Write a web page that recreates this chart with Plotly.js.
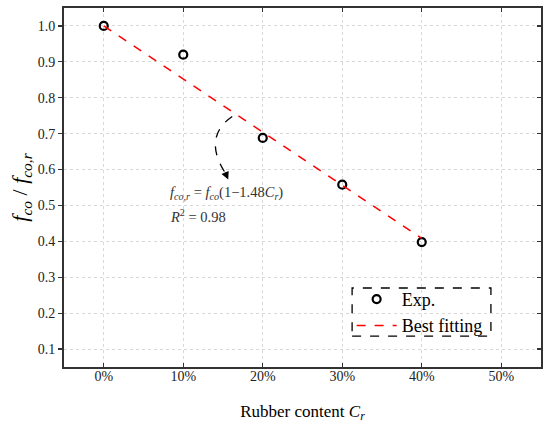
<!DOCTYPE html>
<html><head><meta charset="utf-8">
<script src="https://cdn.plot.ly/plotly-3.0.1.min.js"></script>
<style>html,body{margin:0;padding:0;background:#fff}</style>
</head><body>
<div id="chart" style="width:550px;height:426px"></div>
<script>
var rubberContent = [0, 0.1, 0.2, 0.3, 0.4];
var strengthRatio = [1.0, 0.92, 0.688, 0.558, 0.398];
var fitX = [0, 0.4];
var fitY = [1.0, 0.408];
var xTickVals = [0, 0.1, 0.2, 0.3, 0.4, 0.5];
var xTickText = ['0%', '10%', '20%', '30%', '40%', '50%'];
var yTickVals = [0.1, 0.2, 0.3, 0.4, 0.5, 0.6, 0.7, 0.8, 0.9, 1.0];

var serif = '"Liberation Serif", serif';
var traces = [
  {x: rubberContent, y: strengthRatio, mode: 'markers', name: 'Exp.',
   marker: {symbol: 'circle-open', size: 8, color: '#000', line: {width: 2.2, color: '#000'}}},
  {x: fitX, y: fitY, mode: 'lines', name: 'Best fitting',
   line: {color: '#ff0000', width: 1.5, dash: 'dash'}},
  {x: [0], y: [0], yaxis: 'y2', mode: 'markers', showlegend: false, hoverinfo: 'skip',
   marker: {opacity: 0}}
];
var layout = {
  width: 550, height: 426,
  margin: {l: 64, r: 9, t: 8, b: 59},
  paper_bgcolor: '#fff', plot_bgcolor: '#fff',
  font: {family: serif, color: '#000'},
  showlegend: true,
  legend: {x: 0.603, y: 0.24, xanchor: 'left', yanchor: 'top', bgcolor: 'rgba(0,0,0,0)',
           itemwidth: 40, font: {family: serif, size: 18, color: '#000'}, tracegroupgap: 0},
  xaxis: {range: [-0.05, 0.55], tickvals: xTickVals, ticktext: xTickText,
          ticks: 'inside', ticklen: 4, tickwidth: 1.2, tickcolor: '#333',
          showline: true, linecolor: '#333', linewidth: 2, mirror: 'ticks',
          ticklabelstandoff: -5,
          showgrid: true, gridcolor: '#d8d8d8', griddash: 'dot', gridwidth: 1,
          zeroline: false, tickfont: {family: serif, size: 14, color: '#222'},
          title: {text: 'Rubber content <i>C<sub>r</sub></i>', font: {family: serif, size: 17, color: '#000'}, standoff: 22}},
  yaxis: {range: [0.05, 1.05], tickvals: yTickVals, tickformat: '.1f',
          ticks: 'outside', ticklen: 4, tickwidth: 1.2, tickcolor: '#333',
          showline: true, linecolor: '#333', linewidth: 2, mirror: true,
          showgrid: true, gridcolor: '#d8d8d8', griddash: 'dot', gridwidth: 1,
          zeroline: false, tickfont: {family: serif, size: 14, color: '#222'},
          title: {text: '<i>f<sub>co</sub></i> / <i>f<sub>co,r</sub></i>', font: {family: serif, size: 22, color: '#000'}, standoff: 4}},
  yaxis2: {range: [0.05, 1.05], tickvals: yTickVals, overlaying: 'y', side: 'right',
           ticks: 'inside', ticklen: 4, tickwidth: 1.2, tickcolor: '#333',
           showticklabels: false, showgrid: false, zeroline: false, showline: false},
  shapes: [
    {type: 'path', xref: 'x', yref: 'y', path: 'M 0.1616 0.748 Q 0.124 0.69 0.153 0.59',
     line: {color: '#000', width: 1.3, dash: 'dash'}},
    {type: 'rect', xref: 'paper', yref: 'paper', x0: 0.604, x1: 0.895, y0: 0.086, y1: 0.22,
     line: {color: '#000', width: 1.3, dash: 'dash'}}
  ],
  annotations: [
    {x: 0.1566, y: 0.572, ax: 0.152, ay: 0.595, xref: 'x', yref: 'y', axref: 'x', ayref: 'y',
     text: '', showarrow: true, arrowhead: 2, arrowsize: 1.2, arrowwidth: 1.3, arrowcolor: '#000', standoff: 0},
    {x: 0.0808, y: 0.535, xref: 'x', yref: 'y', xanchor: 'left', yanchor: 'middle', showarrow: false,
     text: '<i>f<sub>co,r</sub></i> = <i>f<sub>co</sub></i>(1\u22121.48<i>C<sub>r</sub></i>)',
     font: {family: serif, size: 14.5, color: '#333'}},
    {x: 0.0808, y: 0.471, xref: 'x', yref: 'y', xanchor: 'left', yanchor: 'middle', showarrow: false,
     text: '<i>R</i><sup>2</sup> = 0.98',
     font: {family: serif, size: 14.5, color: '#333'}}
  ]
};
Plotly.newPlot('chart', traces, layout, {displayModeBar: false, staticPlot: true});
</script>
</body></html>
